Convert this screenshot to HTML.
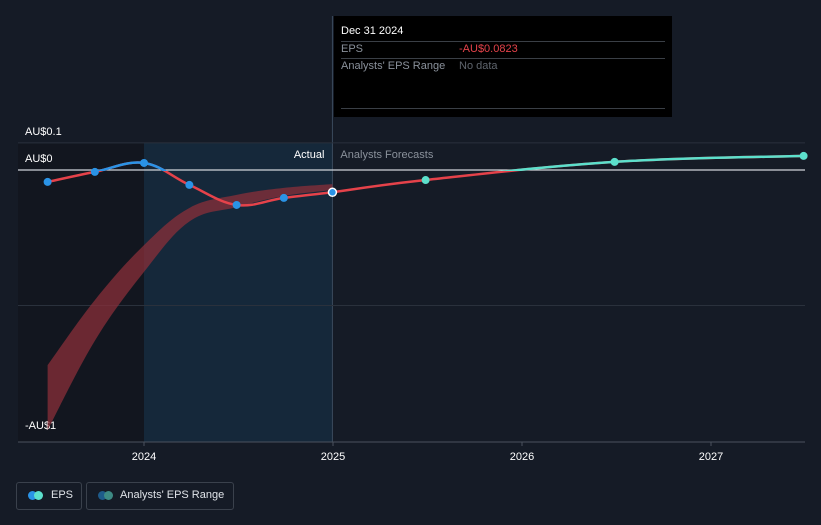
<!DOCTYPE html>
<html><head><meta charset="utf-8"><style>
body{margin:0;background:#151b26;width:821px;height:520px;overflow:hidden;font-family:"Liberation Sans",sans-serif}
svg text{font-family:"Liberation Sans",sans-serif}
</style></head><body>
<svg id="c" width="821" height="520"></svg>
<script>
const actualDates=[2023.49,2023.74,2024.0,2024.24,2024.49,2024.74,2024.997];
const actualEps=[-0.044,-0.007,0.026,-0.055,-0.129,-0.103,-0.0823];
const forecastDates=[2024.997,2025.49,2026.49,2027.49];
const forecastEps=[-0.0823,-0.037,0.03,0.052];
const rangeUpper=[-0.72,-0.48,-0.277,-0.14,-0.092,-0.066,-0.052];
const rangeLower=[-0.96,-0.63,-0.376,-0.19,-0.137,-0.096,-0.074];
const yTickVals=[0.1,0,-1];
const yTickLabels=["AU$0.1","AU$0","-AU$1"];
const xTickVals=[2024,2025,2026,2027];
const xTickLabels=["2024","2025","2026","2027"];
const NS="http://www.w3.org/2000/svg";
const svg=document.getElementById('c');
const X=d=>144+(d-2024)*189;
const Y=v=>170-v*271;
function mk(t,a,p){const e=document.createElementNS(NS,t);for(const k in a)e.setAttribute(k,a[k]);(p||svg).appendChild(e);return e;}
function smooth(pts){let d=`M${pts[0][0]},${pts[0][1]}`;for(let i=0;i<pts.length-1;i++){const p0=pts[i-1]||pts[i],p1=pts[i],p2=pts[i+1],p3=pts[i+2]||p2;const t=0.18;d+=` C${p1[0]+(p2[0]-p0[0])*t},${p1[1]+(p2[1]-p0[1])*t} ${p2[0]-(p3[0]-p1[0])*t},${p2[1]-(p3[1]-p1[1])*t} ${p2[0]},${p2[1]}`;}return d;}
const defs=mk('defs',{});
const cpA=mk('clipPath',{id:'above'},defs);mk('rect',{x:0,y:0,width:821,height:Y(0)+1},cpA);
// backgrounds
let r=mk('rect',{x:18,y:143,width:X(2024)-18,height:299,fill:'#12161f'});
r=mk('rect',{x:X(2024),y:143,width:X(2024.997)-X(2024),height:299,fill:'#15283a'});
mk('line',{x1:X(2024.997),y1:16,x2:X(2024.997),y2:442,stroke:'#3a4a5c','stroke-width':1});
// gridlines
[0.1,-0.5].forEach(v=>mk('line',{x1:18,x2:805,y1:Y(v),y2:Y(v),stroke:'#2a313c','stroke-width':1}));
mk('line',{x1:18,x2:805,y1:442,y2:442,stroke:'#4a525d','stroke-width':1});
yTickVals.forEach((v,i)=>{const t=mk('text',{x:25,y:Y(v)-8+(v===-1?-4:0)+(v===0?0:0),fill:'#fff','font-size':11});t.textContent=yTickLabels[i];});
xTickVals.forEach((v,i)=>{mk('line',{x1:X(v),x2:X(v),y1:442,y2:446,stroke:'#4a525d'});const t=mk('text',{x:X(v),y:460,fill:'#fff','font-size':11,'text-anchor':'middle'});t.textContent=xTickLabels[i];});
// range band
const up=actualDates.map((d,i)=>[X(d),Y(rangeUpper[i])]);
const lo=actualDates.map((d,i)=>[X(d),Y(rangeLower[i])]).reverse();
const bandD=smooth(up)+' L'+smooth(lo).slice(1)+' Z';
const band=mk('path',{d:bandD,fill:'#8a2f3a','fill-opacity':0.75});

// zero line
mk('line',{x1:18,x2:805,y1:Y(0),y2:Y(0),stroke:'#d0d4da','stroke-width':1.3});
// lines
const ap=actualDates.map((d,i)=>[X(d),Y(actualEps[i])]);
const fp=forecastDates.map((d,i)=>[X(d),Y(forecastEps[i])]);
let l=mk('path',{d:smooth(ap),fill:'none',stroke:'#e5424a','stroke-width':2.5});
mk('path',{d:smooth(ap),fill:'none',stroke:'#2a93e6','stroke-width':2.5,'clip-path':'url(#above)'});
l=mk('path',{d:smooth(fp),fill:'none',stroke:'#e5424a','stroke-width':2.5});
mk('path',{d:smooth(fp),fill:'none',stroke:'#5ce0cc','stroke-width':2.5,'clip-path':'url(#above)'});
ap.forEach((p,i)=>{const last=i===ap.length-1;const c=mk('circle',{cx:p[0],cy:p[1],r:4,fill:'#2a93e6',stroke:last?'#fff':'none','stroke-width':1.5});});
fp.slice(1).forEach(p=>{const c=mk('circle',{cx:p[0],cy:p[1],r:4,fill:'#5ce0cc'});});
let t=mk('text',{x:X(2024.997)-8,y:158,fill:'#fff','font-size':11,'text-anchor':'end'});t.textContent='Actual';
t=mk('text',{x:X(2024.997)+8,y:158,fill:'#8a919b','font-size':11});t.textContent='Analysts Forecasts';
</script>
<div style="position:absolute;left:334px;top:16px;width:338px;height:101px;background:#000;font-size:11px">
<div style="position:absolute;left:7px;top:9px;color:#fff">Dec 31 2024</div>
<div style="position:absolute;left:7px;right:7px;top:25px;border-top:1px solid #3a3f46"></div>
<div style="position:absolute;left:7px;top:27px;color:#8a919b">EPS</div>
<div style="position:absolute;left:125px;top:27px;color:#e5424a">-AU$0.0823</div>
<div style="position:absolute;left:7px;right:7px;top:42px;border-top:1px solid #3a3f46"></div>
<div style="position:absolute;left:7px;top:44px;color:#8a919b">Analysts' EPS Range</div>
<div style="position:absolute;left:125px;top:44px;color:#5f656d">No data</div>
<div style="position:absolute;left:7px;right:7px;top:92px;border-top:1px solid #3a3f46"></div>
</div>
<div style="position:absolute;left:16px;top:482px;width:64px;height:26px;border:1px solid #3a414c;border-radius:3px;font-size:11px;color:#dfe3e8">
<span style="position:absolute;left:11px;top:8px;width:9px;height:9px;border-radius:50%;background:#2a93e6"></span>
<span style="position:absolute;left:17px;top:8px;width:9px;height:9px;border-radius:50%;background:#5ce0cc"></span>
<span style="position:absolute;left:34px;top:6px">EPS</span></div>
<div style="position:absolute;left:86px;top:482px;width:146px;height:26px;border:1px solid #3a414c;border-radius:3px;font-size:11px;color:#dfe3e8">
<span style="position:absolute;left:11px;top:8px;width:9px;height:9px;border-radius:50%;background:#1e5b8a"></span>
<span style="position:absolute;left:17px;top:8px;width:9px;height:9px;border-radius:50%;background:#3d8a84"></span>
<span style="position:absolute;left:33px;top:6px">Analysts' EPS Range</span></div>
</body></html>
